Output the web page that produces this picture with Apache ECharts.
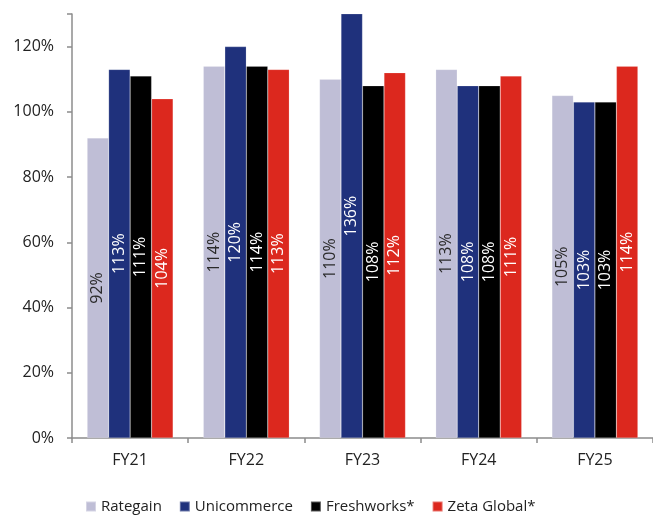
<!DOCTYPE html>
<html>
<head>
<meta charset="utf-8">
<script src="https://cdn.jsdelivr.net/npm/echarts@6/dist/echarts.min.js"></script>
<style>
  html, body { margin: 0; padding: 0; background: #fff; }
  #chart { width: 653px; height: 516px; }
</style>
</head>
<body>
<div id="chart"></div>
<script>
// Fiscal years on the category axis
const years = ['FY21', 'FY22', 'FY23', 'FY24', 'FY25'];

// Growth (%) per company
const rategain     = [92, 114, 110, 113, 105];
const unicommerce  = [113, 120, 136, 108, 103];
const freshworks   = [111, 114, 108, 108, 103];
const zetaGlobal   = [104, 113, 112, 111, 114];

// Y axis range and tick step (percent)
const yMin = 0, yMax = 130, yStep = 20;

const FONT = '"Open Sans", "Noto Sans", sans-serif';

function makeSeries(name, data, color, labelColor) {
  return {
    name: name,
    type: 'bar',
    data: data,
    barGap: '0%',
    barCategoryGap: '26%',
    clip: true,
    itemStyle: { color: color, borderColor: 'rgba(255,255,255,0.35)', borderWidth: 0.5 },
    label: {
      show: true,
      position: 'inside',
      rotate: 90,
      formatter: '{c}%',
      color: labelColor,
      fontFamily: FONT,
      fontSize: 16
    }
  };
}

const series = [
  makeSeries('Rategain', rategain, '#bfbed6', '#2a2a2a'),
  makeSeries('Unicommerce', unicommerce, '#1f317c', '#fff'),
  makeSeries('Freshworks*', freshworks, '#000000', '#fff'),
  makeSeries('Zeta Global*', zetaGlobal, '#dc281e', '#fff')
];

const chart = echarts.init(document.getElementById('chart'));
const option = {
  animation: false,
  backgroundColor: '#fff',
  grid: { left: 72, right: -4, top: 14, bottom: 78 },
  legend: {
    bottom: -3,
    left: 80,
    itemWidth: 10,
    itemHeight: 10,
    itemGap: 17,
    icon: 'rect',
    textStyle: { fontFamily: FONT, fontSize: 15, color: '#222' }
  },
  xAxis: {
    type: 'category',
    data: years,
    axisLine: { lineStyle: { color: '#8c8c8c', width: 1.5 } },
    axisTick: { show: true, length: 5, lineStyle: { color: '#8c8c8c', width: 1.5 } },
    axisLabel: { margin: 14, fontFamily: FONT, fontSize: 16, color: '#222' }
  },
  yAxis: {
    type: 'value',
    min: yMin,
    max: yMax,
    interval: yStep,
    splitLine: { show: false },
    axisLine: { show: true, lineStyle: { color: '#8c8c8c', width: 1.5 } },
    axisTick: { show: true, length: 5, lineStyle: { color: '#8c8c8c', width: 1.5 } },
    axisLabel: {
      margin: 18,
      fontFamily: FONT,
      fontSize: 16,
      color: '#222',
      formatter: function (v) { return v > 120 ? '' : v + '%'; }
    }
  },
  series: series
};
chart.setOption(option);

// Bars taller than the axis are clipped; keep their labels centred on the full value.
// The label is rotated 90°, so its local x offset runs upward on screen.
series.forEach(function (s) {
  s.data = s.data.map(function (v) {
    if (v <= yMax) return v;
    const full = chart.convertToPixel({ yAxisIndex: 0 }, v / 2);
    const clipped = chart.convertToPixel({ yAxisIndex: 0 }, yMax / 2);
    return { value: v, label: { offset: [clipped - full, 0] } };
  });
});
chart.setOption(option);
</script>
</body>
</html>
